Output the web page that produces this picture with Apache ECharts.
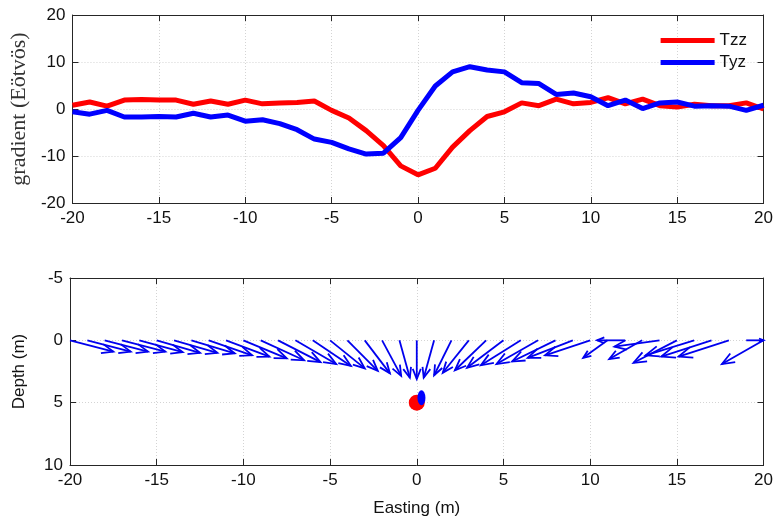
<!DOCTYPE html>
<html>
<head>
<meta charset="utf-8">
<script src="https://cdn.jsdelivr.net/npm/echarts@6/dist/echarts.min.js"></script>
<style>
  html, body { margin: 0; padding: 0; background: #fff; }
  #chart { width: 776px; height: 518px; }
</style>
</head>
<body>
<div id="chart"></div>
<script>
// station positions along the profile (m)
var easting = [-20,-19,-18,-17,-16,-15,-14,-13,-12,-11,-10,-9,-8,-7,-6,-5,-4,-3,-2,-1,0,
               1,2,3,4,5,6,7,8,9,10,11,12,13,14,15,16,17,18,19,20];

// gradient components (Eotvos)
var tzz = [0.8,1.5,0.6,1.9,2.0,1.9,1.9,1.0,1.7,1.0,1.9,1.1,1.3,1.4,1.7,-0.3,-1.9,-4.6,-7.8,-12.1,-14.0,
           -12.6,-8.1,-4.6,-1.6,-0.6,1.3,0.7,2.1,1.1,1.4,2.4,1.1,2.1,0.7,0.4,1.0,0.7,0.7,1.3,0.0];
var tyz = [-0.6,-1.1,-0.3,-1.7,-1.7,-1.6,-1.7,-0.9,-1.7,-1.3,-2.6,-2.3,-3.1,-4.4,-6.4,-7.1,-8.5,-9.6,-9.4,-6.1,-0.3,
           4.9,7.9,9.0,8.3,7.9,5.6,5.4,3.1,3.4,2.6,0.7,1.9,0.1,1.3,1.5,0.6,0.7,0.6,-0.3,0.8];

// arrow components in the section (easting offset, depth offset)
var arrowDx = [2.5,2.5,2.5,2.5,2.5,2.5,2.5,2.5,2.5,2.5,2.5,2.5,2.45,2.35,2.2,2.0,1.75,1.45,1.1,0.6,0.0,
               -0.6,-1.0,-1.5,-1.8,-2.1,-2.3,-2.4,-2.5,-2.6,-2.6,-1.4,-1.6,-1.9,-2.6,-2.5,-2.8,-2.9,-2.9,1.0,-2.4];
var arrowDz = [0.9,0.9,0.9,0.9,0.95,1.0,1.0,1.05,1.2,1.3,1.45,1.6,1.75,1.9,2.05,2.25,2.45,2.65,2.85,3.0,3.1,
               3.0,2.8,2.6,2.4,2.2,2.0,1.9,1.7,1.4,1.2,1.4,0.0,1.5,0.5,1.8,1.2,1.3,1.3,0.0,1.9];

// source positions (easting, depth)
var sourceTrue = [[0, 5]];
var sourceEst = [[0.27, 4.6]];

var xTicks = { min: -20, max: 20, interval: 5 };
var gradTicks = { min: -20, max: 20, interval: 10 };
var depthTicks = { min: -5, max: 10, interval: 5 };

var ink = '#262626';
var font = 'Liberation Sans, Arial, sans-serif';

function zip(a, b) {
  return a.map(function (v, i) { return [v, b[i]]; });
}

function mainAxis(r, pos, gi, extra) {
  var o = {
    type: 'value', gridIndex: gi, position: pos,
    min: r.min, max: r.max, interval: r.interval,
    axisLine: { show: true, onZero: false, lineStyle: { color: ink, width: 1 } },
    axisTick: { show: true, inside: true, length: 6, lineStyle: { color: ink } },
    axisLabel: { color: '#111', fontSize: 17, fontFamily: font, margin: 7 },
    splitLine: { show: true, lineStyle: { color: '#d4d4d4', type: [1, 2], width: 1 } }
  };
  for (var k in extra) o[k] = extra[k];
  return o;
}

function mirrorAxis(r, pos, gi, extra) {
  var o = {
    type: 'value', gridIndex: gi, position: pos,
    min: r.min, max: r.max, interval: r.interval,
    axisLine: { show: true, onZero: false, lineStyle: { color: ink, width: 1 } },
    axisTick: { show: true, inside: true, length: 6, lineStyle: { color: ink } },
    axisLabel: { show: false },
    splitLine: { show: false }
  };
  for (var k in extra) o[k] = extra[k];
  return o;
}

function renderArrow(params, api) {
  var x = api.value(0), dx = api.value(1), dz = api.value(2);
  var p0 = api.coord([x, 0]);
  var p1 = api.coord([x + dx, dz]);
  var vx = p1[0] - p0[0], vy = p1[1] - p0[1];
  var len = Math.sqrt(vx * vx + vy * vy);
  var style = { stroke: '#0000ee', lineWidth: 1.8, fill: null };
  var children = [{
    type: 'line',
    shape: { x1: p0[0], y1: p0[1], x2: p1[0], y2: p1[1] },
    style: style
  }];
  if (len > 0.5) {
    var ux = vx / len, uy = vy / len;
    var h = len * 0.28, a = 0.38;
    var c = Math.cos(a), s = Math.sin(a);
    var l = [p1[0] - h * (ux * c - uy * s), p1[1] - h * (uy * c + ux * s)];
    var r = [p1[0] - h * (ux * c + uy * s), p1[1] - h * (uy * c - ux * s)];
    children.push({
      type: 'polyline',
      shape: { points: [l, p1, r] },
      style: style
    });
  }
  return { type: 'group', children: children };
}

var arrowData = easting.map(function (x, i) { return [x, arrowDx[i], arrowDz[i]]; });

var option = {
  animation: false,
  backgroundColor: '#fff',
  legend: {
    data: ['Tzz', 'Tyz'],
    orient: 'vertical',
    right: 24,
    top: 27,
    icon: 'rect',
    itemWidth: 54,
    itemHeight: 5,
    itemGap: 5,
    textStyle: { fontSize: 17, fontFamily: font, color: '#111' }
  },
  grid: [
    { left: 70, right: 12, top: 15, height: 188 },
    { left: 70, right: 12, top: 278, height: 189 }
  ],
  xAxis: [
    mainAxis(xTicks, 'bottom', 0, {}),
    mirrorAxis(xTicks, 'top', 0, {}),
    mainAxis(xTicks, 'bottom', 1, {
      name: 'Easting (m)', nameLocation: 'middle', nameGap: 35,
      nameTextStyle: { fontSize: 17, fontFamily: font, color: '#111' }
    }),
    mirrorAxis(xTicks, 'top', 1, {})
  ],
  yAxis: [
    mainAxis(gradTicks, 'left', 0, {
      name: 'gradient (Eötvös)', nameLocation: 'middle', nameGap: 42, nameRotate: 90,
      nameTextStyle: { fontSize: 22, fontFamily: 'Liberation Serif, DejaVu Serif, serif', color: '#333' }
    }),
    mirrorAxis(gradTicks, 'right', 0, {}),
    mainAxis(depthTicks, 'left', 1, {
      inverse: true,
      name: 'Depth (m)', nameLocation: 'middle', nameGap: 42, nameRotate: 90,
      nameTextStyle: { fontSize: 17, fontFamily: font, color: '#111' }
    }),
    mirrorAxis(depthTicks, 'right', 1, { inverse: true })
  ],
  series: [
    {
      name: 'Tzz', type: 'line', xAxisIndex: 0, yAxisIndex: 0,
      data: zip(easting, tzz), showSymbol: false, symbol: 'none',
      lineStyle: { color: '#ff0000', width: 5 }, itemStyle: { color: '#ff0000' }
    },
    {
      name: 'Tyz', type: 'line', xAxisIndex: 0, yAxisIndex: 0,
      data: zip(easting, tyz), showSymbol: false, symbol: 'none',
      lineStyle: { color: '#0000ff', width: 5 }, itemStyle: { color: '#0000ff' }
    },
    {
      name: 'arrows', type: 'custom', xAxisIndex: 2, yAxisIndex: 2,
      data: arrowData, renderItem: renderArrow, clip: false,
      encode: { x: 0, y: 2 }
    },
    {
      name: 'true source', type: 'scatter', xAxisIndex: 2, yAxisIndex: 2,
      data: sourceTrue, symbol: 'circle', symbolSize: 16,
      itemStyle: { color: '#ff0000', opacity: 1 }
    },
    {
      name: 'estimated source', type: 'scatter', xAxisIndex: 2, yAxisIndex: 2,
      data: sourceEst, symbol: 'circle', symbolSize: [8, 15],
      itemStyle: { color: '#0000ff', opacity: 1 }
    }
  ]
};

var chart = echarts.init(document.getElementById('chart'), null, { renderer: 'canvas' });
chart.setOption(option);
</script>
</body>
</html>
